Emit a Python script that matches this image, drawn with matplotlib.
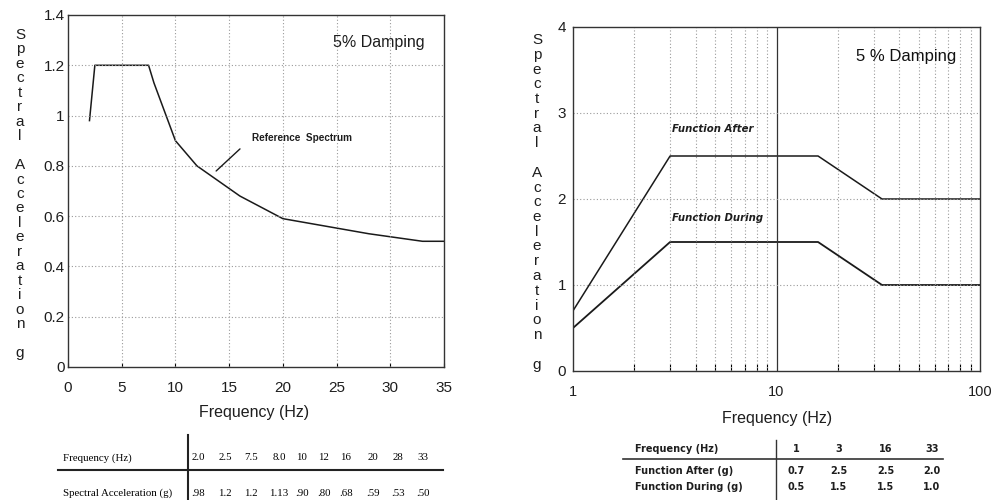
import matplotlib
matplotlib.use("Agg")
import matplotlib.pyplot as plt
from matplotlib.lines import Line2D
from matplotlib.ticker import FixedLocator, NullFormatter

plt.rcParams['font.family'] = ['Liberation Sans', 'DejaVu Sans']

# ---------------- data ----------------
left_freq = [2.0, 2.5, 7.5, 8.0, 10, 12, 16, 20, 28, 33]
left_sa = [0.98, 1.2, 1.2, 1.13, 0.90, 0.80, 0.68, 0.59, 0.53, 0.50]
left_end_freq = 35          # curve held flat to the right edge
left_freq_labels = ['2.0', '2.5', '7.5', '8.0', '10', '12', '16', '20', '28', '33']
left_sa_labels = ['.98', '1.2', '1.2', '1.13', '.90', '.80', '.68', '.59', '.53', '.50']

right_freq = [1, 3, 16, 33]
func_after = [0.7, 2.5, 2.5, 2.0]
func_during = [0.5, 1.5, 1.5, 1.0]
right_end_freq = 100
right_freq_labels = ['1', '3', '16', '33']
after_labels = ['0.7', '2.5', '2.5', '2.0']
during_labels = ['0.5', '1.5', '1.5', '1.0']

left_yticks = [0, 0.2, 0.4, 0.6, 0.8, 1.0, 1.2, 1.4]
left_yticklabels = ['0', '0.2', '0.4', '0.6', '0.8', '1', '1.2', '1.4']
left_xticks = [0, 5, 10, 15, 20, 25, 30, 35]
right_yticks = [0, 1, 2, 3, 4]
right_xticks = [1, 10, 100]

# ---------------- layout ----------------
W, H = 992, 500
fig = plt.figure(figsize=(W / 100, H / 100), dpi=100)
fig.patch.set_facecolor('white')
TXT = '#1e1e1e'


def P(x, y):
    return (x / W, 1 - y / H)


def ax_rect(x0, y0, x1, y1):
    return [x0 / W, 1 - y1 / H, (x1 - x0) / W, (y1 - y0) / H]


grid_kw = dict(color='#9a9a9a', linestyle=(0, (1, 2)), linewidth=0.8)

# ---------- left chart ----------
axL = fig.add_axes(ax_rect(68, 15, 444, 367))
axL.plot(left_freq + [left_end_freq], left_sa + [left_sa[-1]], color='#1a1a1a', lw=1.1)
axL.set_xlim(0, 35)
axL.set_ylim(0, 1.4)
axL.set_xticks(left_xticks)
axL.set_xticklabels([str(t) for t in left_xticks])
axL.set_yticks(left_yticks)
axL.set_yticklabels(left_yticklabels)
axL.tick_params(axis='x', direction='in', length=3, width=0.8, pad=10, labelsize=11,
                labelcolor=TXT)
axL.tick_params(axis='y', length=0, pad=2.5, labelsize=11, labelcolor=TXT)
for v in left_xticks[1:-1]:
    axL.axvline(v, **grid_kw)
for v in left_yticks[1:-1]:
    axL.axhline(v, **grid_kw)
for s in axL.spines.values():
    s.set_color('#333333')
    s.set_linewidth(1.0)

axL.annotate('', xy=(13.6, 0.772), xytext=(16.2, 0.875),
             arrowprops=dict(arrowstyle='-', color='#1a1a1a', lw=1.0))
axL.text(17.1, 0.911, 'Reference  Spectrum', fontsize=7.2, fontweight='bold',
         ha='left', va='center', color=TXT)

fig.text(*P(379, 42), '5% Damping', fontsize=11.5, ha='center', va='center', color=TXT)
fig.text(*P(254, 412), 'Frequency (Hz)', fontsize=11.5, ha='center', va='center', color=TXT)

# stacked y label
label = 'Spectral Acceleration g'
lines = []
for w in label.split(' '):
    lines.extend(list(w))
    lines.append('')
lines = lines[:-1]
for i, ch in enumerate(lines):
    if ch:
        fig.text(*P(20, 35 + i * 14.45), ch, fontsize=11, ha='center', va='center', color=TXT)

# left table
fig.add_artist(Line2D([58 / W, 443 / W], [1 - 470 / H] * 2, color='#222222', lw=1.5))
fig.add_artist(Line2D([188 / W] * 2, [1 - 435 / H, 1 - 500 / H], color='#222222', lw=1.5))
serif = 'Liberation Serif'
fig.text(*P(63, 458), 'Frequency (Hz)', fontsize=7.8, family=serif, ha='left', va='center')
fig.text(*P(63, 493), 'Spectral Acceleration (g)', fontsize=7.8, family=serif, ha='left', va='center')
col_x = [198, 225, 251, 279, 302, 324, 346, 373, 398, 423]
for cx, a, b in zip(col_x, left_freq_labels, left_sa_labels):
    fig.text(*P(cx, 458), a, fontsize=7.8, family=serif, ha='center', va='center')
    fig.text(*P(cx, 493), b, fontsize=7.8, family=serif, ha='center', va='center')

# ---------- right chart ----------
axR = fig.add_axes(ax_rect(573, 27, 980, 371))
axR.set_xscale('log')
axR.plot(right_freq + [right_end_freq], func_after + [func_after[-1]], color='#1a1a1a', lw=1.1)
axR.plot(right_freq + [right_end_freq], func_during + [func_during[-1]], color='#1a1a1a', lw=1.3)
axR.set_xlim(1, 100)
axR.set_ylim(0, 4)
axR.xaxis.set_major_locator(FixedLocator(right_xticks))
axR.set_xticklabels([str(t) for t in right_xticks])
minor = [m * d for d in (1, 10) for m in range(2, 10)]
axR.xaxis.set_minor_locator(FixedLocator(minor))
axR.xaxis.set_minor_formatter(NullFormatter())
axR.set_yticks(right_yticks)
axR.set_yticklabels([str(t) for t in right_yticks])
axR.tick_params(axis='x', which='major', direction='in', length=0, pad=10, labelsize=10.5,
                labelcolor=TXT)
axR.tick_params(axis='x', which='minor', direction='in', length=5, width=0.8)
axR.tick_params(axis='y', length=0, pad=5, labelsize=11, labelcolor=TXT)
for v in minor:
    axR.axvline(v, **grid_kw)
axR.axvline(10, color='#333333', lw=0.9)
for v in right_yticks[1:-1]:
    axR.axhline(v, **grid_kw)
for s in axR.spines.values():
    s.set_color('#333333')
    s.set_linewidth(1.0)

fk = dict(fontsize=7.3, fontweight='bold', style='italic', family='DejaVu Sans',
          ha='left', va='center', color=TXT)
axR.text(3.07, 2.81, 'Function After', **fk)
axR.text(3.07, 1.78, 'Function During', **fk)
fig.text(*P(906, 56), '5 % Damping', fontsize=12, ha='center', va='center', color='#111111')
fig.text(*P(777, 418), 'Frequency (Hz)', fontsize=11.5, ha='center', va='center', color=TXT)

for i, ch in enumerate(lines):
    if ch:
        fig.text(*P(537, 40 + i * 14.75), ch, fontsize=11, ha='center', va='center', color=TXT)

# right table
fig.add_artist(Line2D([623 / W, 943 / W], [1 - 459 / H] * 2, color='#333333', lw=1.2))
fig.add_artist(Line2D([776 / W] * 2, [1 - 440 / H, 1 - 500 / H], color='#333333', lw=1.0))
tk = dict(fontsize=7, fontweight='bold', family='DejaVu Sans', va='center', color=TXT)
fig.text(*P(635, 449), 'Frequency (Hz)', ha='left', **tk)
fig.text(*P(635, 471), 'Function After (g)', ha='left', **tk)
fig.text(*P(635, 487), 'Function During (g)', ha='left', **tk)
rcol = [796, 839, 886, 932]
for cx, a, b, c in zip(rcol, right_freq_labels, after_labels, during_labels):
    fig.text(*P(cx, 449), a, ha='center', **tk)
    fig.text(*P(cx, 471), b, ha='center', **tk)
    fig.text(*P(cx, 487), c, ha='center', **tk)

fig.savefig('out.png', dpi=100, facecolor='white')
